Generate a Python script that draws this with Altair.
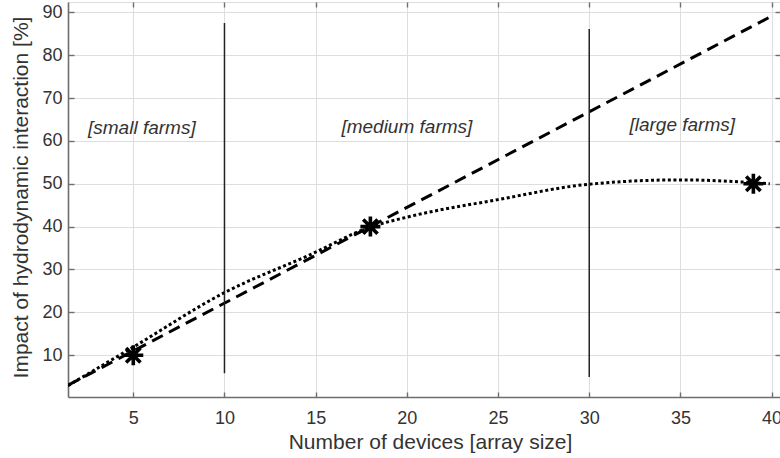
import altair as alt
import pandas as pd

# ---- data ----
curve_x = [1.42, 5, 10, 14.67, 18, 20, 25, 30, 35, 39.9]
curve_y = [2.9, 11.9, 24.6, 33.4, 39.9, 42.2, 46.3, 49.9, 50.9, 50.0]

line_x = [1.42, 40.0]
line_y = [3.0, 89.1]

star_x = [5, 18, 39]
star_y = [10, 40, 50]

vline_x = [10, 30]
vline_y1 = [5.8, 4.9]
vline_y2 = [87.5, 86.1]

label_text = ["[small farms]", "[medium farms]", "[large farms]"]
label_x = [5.47, 20.0, 35.1]
label_y = [61.7, 61.8, 62.4]

x_ticks = [5, 10, 15, 20, 25, 30, 35, 40]
y_ticks = [10, 20, 30, 40, 50, 60, 70, 80, 90]
x_domain = [1.42, 40.46]
y_domain = [0.25, 92.4]

FONT = "Liberation Sans"
TXT = "#333333"

curve_df = pd.DataFrame({"x": curve_x, "y": curve_y})
line_df = pd.DataFrame({"x": line_x, "y": line_y})
star_df = pd.DataFrame({"x": star_x, "y": star_y})
vline_df = pd.DataFrame({"x": vline_x, "y1": vline_y1, "y2": vline_y2})
label_df = pd.DataFrame({"t": label_text, "x": label_x, "y": label_y})

xs = alt.Scale(domain=x_domain, nice=False, zero=False)
ys = alt.Scale(domain=y_domain, nice=False, zero=False)

main_x_axis = alt.Axis(
    values=x_ticks, grid=True, gridColor="#dedede", gridWidth=1,
    ticks=False, domain=True, domainColor="#6e6e6e", domainWidth=1.6,
    labelFont=FONT, labelFontSize=18, labelColor=TXT, labelPadding=12,
    title="Number of devices [array size]", titleFont=FONT, titleFontSize=21,
    titleFontWeight="normal", titleColor=TXT, titleBaseline="alphabetic",
    titleY=51, titleX=362, titleAlign="center", orient="bottom",
)
main_y_axis = alt.Axis(
    values=y_ticks, grid=True, gridColor="#dedede", gridWidth=1,
    ticks=False, domain=True, domainColor="#6e6e6e", domainWidth=1.6,
    labelFont=FONT, labelFontSize=18, labelColor=TXT, labelPadding=6,
    title="Impact of hydrodynamic interaction [%]", titleFont=FONT,
    titleFontSize=21, titleFontWeight="normal", titleColor=TXT,
    titleBaseline="alphabetic", titleAngle=270, titleAlign="center",
    titleX=-41, titleY=195, orient="left",
)


def tick_axis(orient, vals, size):
    return alt.Axis(
        orient=orient, values=vals, grid=False, labels=False, domain=False,
        ticks=True, tickSize=size, tickColor="#6e6e6e", tickWidth=1.4,
        offset=-size, title=None,
    )


curve = alt.Chart(curve_df).mark_line(
    color="black", strokeWidth=3, strokeDash=[3, 2.6], interpolate="monotone",
    clip=True,
).encode(
    x=alt.X("x:Q", scale=xs, axis=main_x_axis),
    y=alt.Y("y:Q", scale=ys, axis=main_y_axis),
)

dashed = alt.Chart(line_df).mark_line(
    color="black", strokeWidth=3, strokeDash=[12, 7], clip=True,
).encode(
    x=alt.X("x:Q", scale=xs, axis=tick_axis("bottom", x_ticks, 5)),
    y=alt.Y("y:Q", scale=ys, axis=tick_axis("left", y_ticks, 6)),
)

star_shape = "M-1,0L1,0M0,-1L0,1M-0.72,-0.72L0.72,0.72M-0.72,0.72L0.72,-0.72"
stars = alt.Chart(star_df).mark_point(
    shape=star_shape, size=400, stroke="black", strokeWidth=3.6, filled=False,
    opacity=1,
).encode(
    x=alt.X("x:Q", scale=xs, axis=tick_axis("top", x_ticks, 5)),
    y=alt.Y("y:Q", scale=ys, axis=tick_axis("right", y_ticks, 5)),
)

vlines = alt.Chart(vline_df).mark_rule(color="#222222", strokeWidth=1.5).encode(
    x=alt.X("x:Q", scale=xs, axis=None),
    y=alt.Y("y1:Q", scale=ys, axis=None),
    y2="y2:Q",
)

labels = alt.Chart(label_df).mark_text(
    font=FONT, fontSize=19, fontStyle="italic", color=TXT,
    align="center", baseline="alphabetic",
).encode(
    x=alt.X("x:Q", scale=xs, axis=None),
    y=alt.Y("y:Q", scale=ys, axis=None),
    text="t:N",
)

chart = alt.layer(curve, dashed, stars, vlines, labels).resolve_axis(
    x="independent", y="independent"
).properties(
    width=712, height=395,
    padding={"left": 68, "top": 2, "right": 0, "bottom": 61},
    autosize=alt.AutoSizeParams(type="none"),
).configure_view(stroke="#8a8a8a", strokeWidth=1.2).configure(background="white")

chart.save("out.html", embed_options={"renderer": "svg", "actions": False})
